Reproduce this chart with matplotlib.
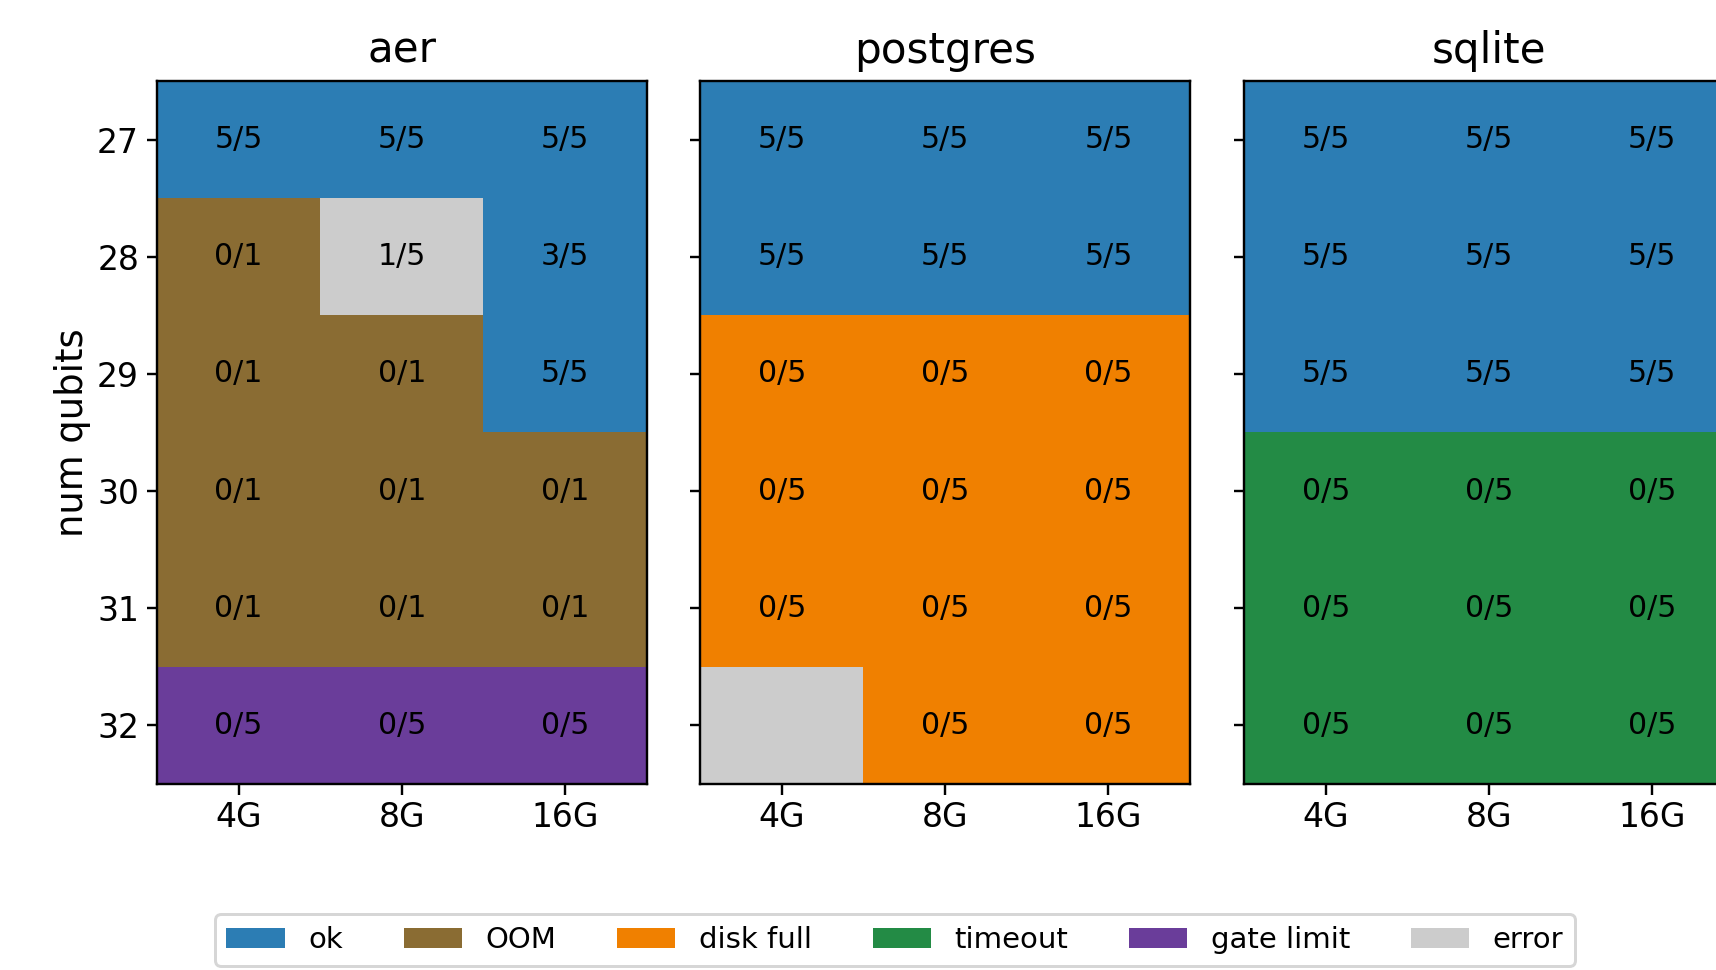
import numpy as np
import matplotlib
matplotlib.use('Agg')
import matplotlib.pyplot as plt
from matplotlib.colors import ListedColormap
from matplotlib.patches import Patch

qubits = [27, 28, 29, 30, 31, 32]
memory = ['4G', '8G', '16G']
backends = ['aer', 'postgres', 'sqlite']

statuses = ['ok', 'OOM', 'disk full', 'timeout', 'gate limit', 'error']
status_colors = ['#2c7db4', '#8a6c33', '#f08000', '#238b45', '#6a3d9a', '#cccccc']

# status per (qubits row, memory column)
aer_status = [
    ['ok', 'ok', 'ok'],
    ['OOM', 'error', 'ok'],
    ['OOM', 'OOM', 'ok'],
    ['OOM', 'OOM', 'OOM'],
    ['OOM', 'OOM', 'OOM'],
    ['gate limit', 'gate limit', 'gate limit'],
]
aer_labels = [
    ['5/5', '5/5', '5/5'],
    ['0/1', '1/5', '3/5'],
    ['0/1', '0/1', '5/5'],
    ['0/1', '0/1', '0/1'],
    ['0/1', '0/1', '0/1'],
    ['0/5', '0/5', '0/5'],
]
postgres_status = [
    ['ok', 'ok', 'ok'],
    ['ok', 'ok', 'ok'],
    ['disk full', 'disk full', 'disk full'],
    ['disk full', 'disk full', 'disk full'],
    ['disk full', 'disk full', 'disk full'],
    ['error', 'disk full', 'disk full'],
]
postgres_labels = [
    ['5/5', '5/5', '5/5'],
    ['5/5', '5/5', '5/5'],
    ['0/5', '0/5', '0/5'],
    ['0/5', '0/5', '0/5'],
    ['0/5', '0/5', '0/5'],
    ['', '0/5', '0/5'],
]
sqlite_status = [
    ['ok', 'ok', 'ok'],
    ['ok', 'ok', 'ok'],
    ['ok', 'ok', 'ok'],
    ['timeout', 'timeout', 'timeout'],
    ['timeout', 'timeout', 'timeout'],
    ['timeout', 'timeout', 'timeout'],
]
sqlite_labels = [
    ['5/5', '5/5', '5/5'],
    ['5/5', '5/5', '5/5'],
    ['5/5', '5/5', '5/5'],
    ['0/5', '0/5', '0/5'],
    ['0/5', '0/5', '0/5'],
    ['0/5', '0/5', '0/5'],
]

all_status = [aer_status, postgres_status, sqlite_status]
all_labels = [aer_labels, postgres_labels, sqlite_labels]

cmap = ListedColormap(status_colors)

fig = plt.figure(figsize=(1716 / 216, 970 / 216), dpi=216)
lefts = [0.0915, 0.408, 0.725]
width = 0.2855
bottom = 0.1918
height = 0.7247

axes = []
for i, name in enumerate(backends):
    ax = fig.add_axes([lefts[i], bottom, width, height])
    axes.append(ax)
    grid = np.array([[statuses.index(s) for s in row] for row in all_status[i]])
    ax.imshow(grid, cmap=cmap, vmin=-0.5, vmax=len(statuses) - 0.5,
              aspect='auto', interpolation='nearest')
    for r in range(len(qubits)):
        for c in range(len(memory)):
            ax.text(c, r, all_labels[i][r][c], ha='center', va='center',
                    fontsize=10, color='black')
    ax.set_xticks(range(len(memory)))
    ax.set_xticklabels(memory)
    ax.set_yticks(range(len(qubits)))
    ax.tick_params(labelsize=11)
    ax.tick_params(axis='x', pad=2.3)
    ax.tick_params(axis='y', pad=2.5)
    if i == 0:
        ax.set_yticklabels(qubits)
        ax.set_ylabel('num qubits', fontsize=12.3, labelpad=2)
    else:
        ax.set_yticklabels([])
    ax.set_title(name, fontsize=14)

handles = [Patch(facecolor=c, label=s) for s, c in zip(statuses, status_colors)]
fig.legend(handles=handles, loc='center', bbox_to_anchor=(0.5215, 0.031),
           ncol=6, frameon=True, fontsize=9.7, columnspacing=2.1)

fig.savefig('out.png', dpi=216)
